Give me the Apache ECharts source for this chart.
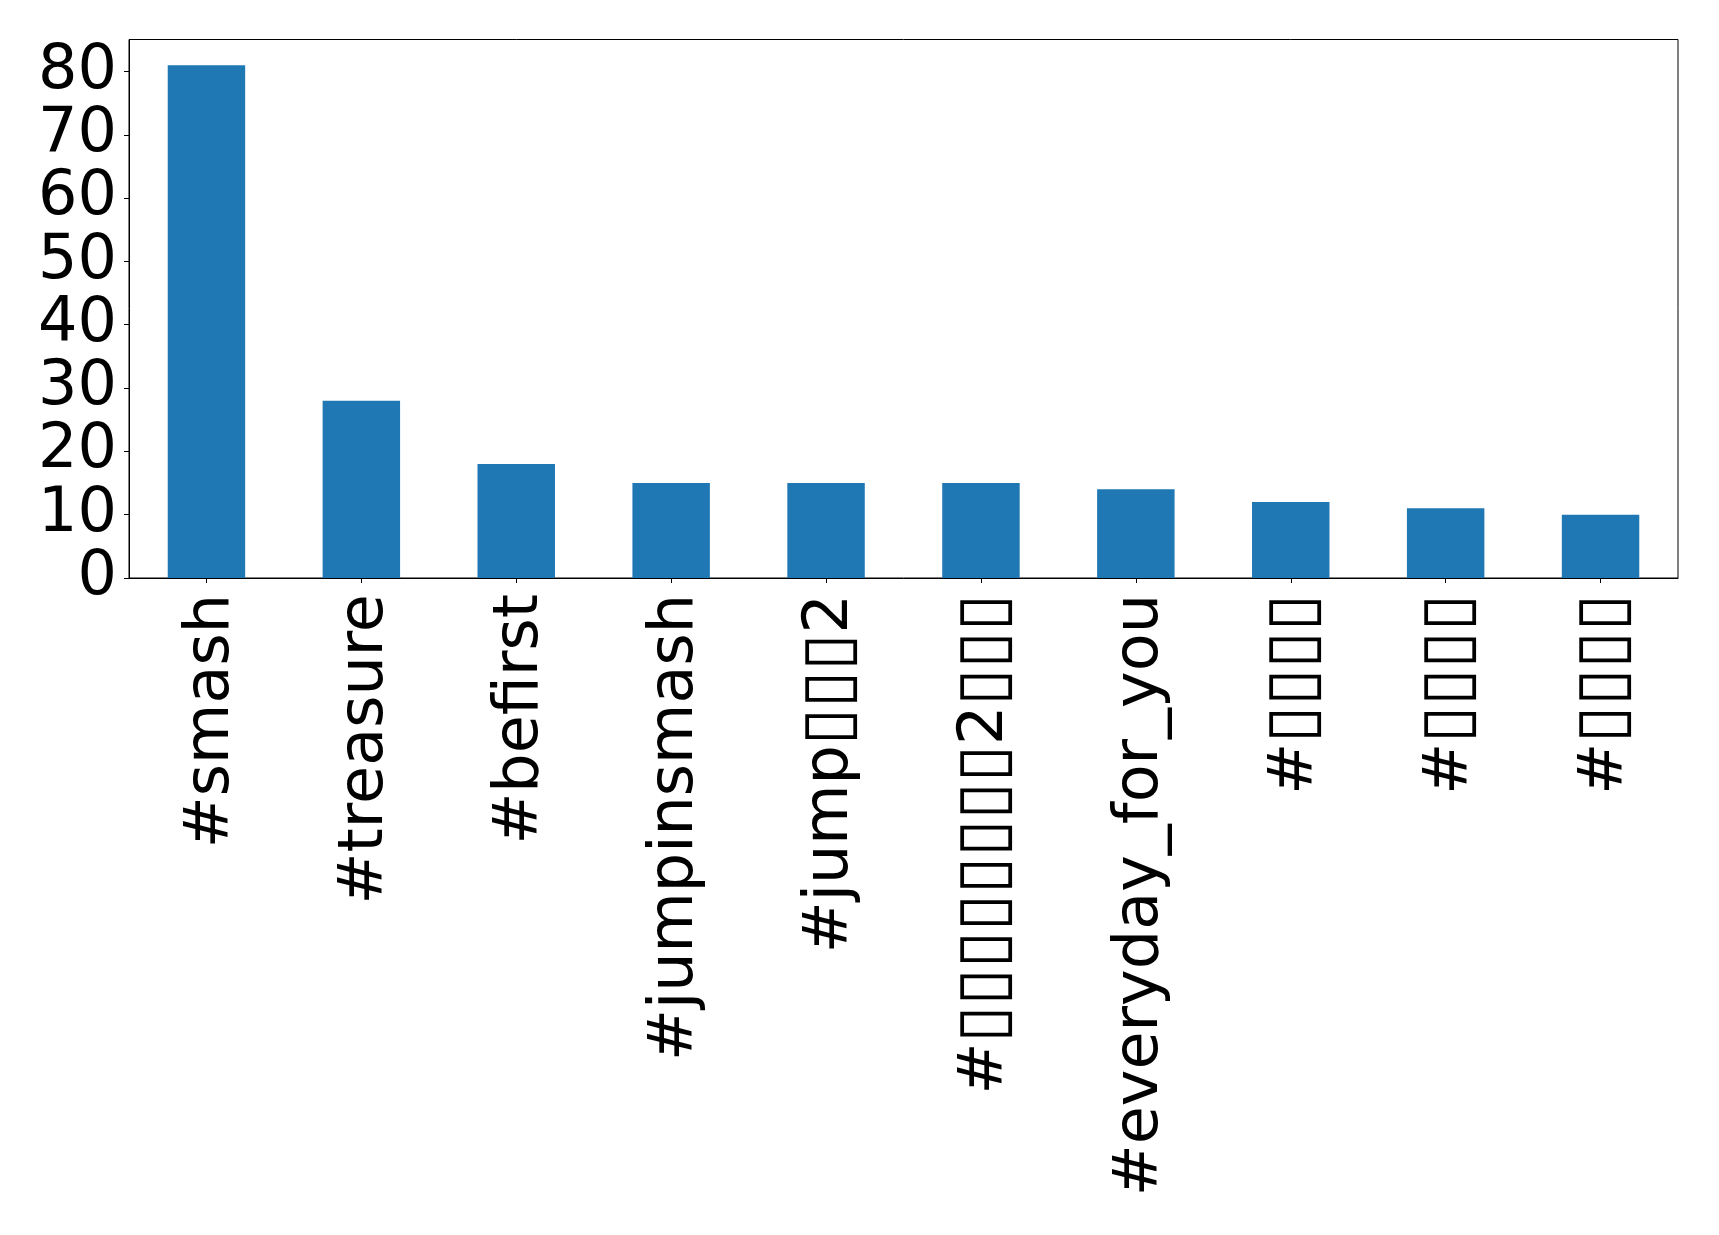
<!DOCTYPE html>
<html>
<head>
<meta charset="utf-8">
<script src="https://cdn.jsdelivr.net/npm/echarts@6/dist/echarts.min.js"></script>
<style>
html,body{margin:0;padding:0;background:#fff;}
#chart{width:1719px;height:1235px;}
</style>
</head>
<body>
<div id="chart"></div>
<script>
// Hashtags (glyphs missing in the source render are shown as boxes)
var categories = ["#smash", "#treasure", "#befirst", "#jumpinsmash", "#jump\u25AF\u25AF\u25AF2",
  "#\u25AF\u25AF\u25AF\u25AF\u25AF\u25AF\u25AF\u25AF2\u25AF\u25AF\u25AF", "#everyday_for_you",
  "#\u25AF\u25AF\u25AF\u25AF", "#\u25AF\u25AF\u25AF\u25AF", "#\u25AF\u25AF\u25AF\u25AF"];
var counts = [81, 28, 18, 15, 15, 15, 14, 12, 11, 10];
var yTicks = [0, 10, 20, 30, 40, 50, 60, 70, 80];
var yMax = 85.05;

var font = "'DejaVu Sans', sans-serif";
var fs = 62;
function richLabel(s) {
  var out = '', run = '';
  for (var i = 0; i < s.length; i++) {
    var c = s[i];
    if (c === '\u25AF') {
      if (run) { out += '{t|' + run + '}'; run = ''; }
      out += '{b|' + c + '}';
    } else {
      run += c;
    }
  }
  if (run) out += '{t|' + run + '}';
  return out;
}
var chart = echarts.init(document.getElementById('chart'), null, {renderer: 'canvas'});
chart.setOption({
  animation: false,
  backgroundColor: '#ffffff',
  grid: {
    left: 129, right: 41, top: 39.5, bottom: 657,
    show: true, borderColor: '#000', borderWidth: 1, backgroundColor: 'transparent'
  },
  xAxis: {
    type: 'category',
    data: categories,
    axisLine: {show: true, lineStyle: {color: '#000', width: 1}},
    axisTick: {show: true, alignWithLabel: true, length: 5, lineStyle: {color: '#000', width: 1}},
    axisLabel: {
      interval: 0, rotate: 90, margin: 16,
      fontFamily: font, fontSize: fs, color: '#000',
      formatter: richLabel,
      rich: {
        t: {fontFamily: font, fontSize: fs, color: '#000', padding: [10, 0, 0, 0]},
        b: {fontFamily: font, fontSize: 68, color: '#000', width: fs * 0.6, align: 'center', padding: [10, 0, 0, 0]}
      }
    },
    splitLine: {show: false}
  },
  yAxis: {
    type: 'value',
    min: 0, max: yMax, interval: 10,
    axisLine: {show: true, lineStyle: {color: '#000', width: 1}},
    axisTick: {show: true, length: 5, customValues: yTicks, lineStyle: {color: '#000', width: 1}},
    axisLabel: {
      customValues: yTicks, margin: 12,
      fontFamily: font, fontSize: fs, color: '#000'
    },
    splitLine: {show: false}
  },
  series: [{
    type: 'bar',
    data: counts,
    barWidth: '50%',
    itemStyle: {color: '#1f77b4'}
  }]
});
</script>
</body>
</html>
